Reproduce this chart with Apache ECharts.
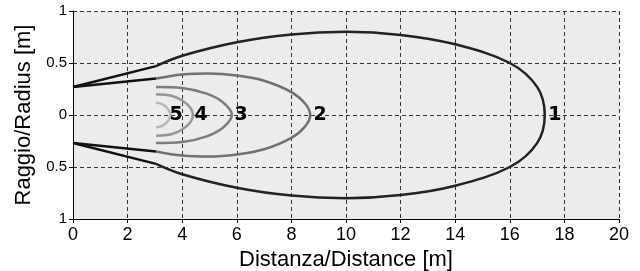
<!DOCTYPE html>
<html>
<head>
<meta charset="utf-8">
<script src="https://cdn.jsdelivr.net/npm/echarts@6/dist/echarts.min.js"></script>
<style>
  html, body { margin: 0; padding: 0; background: #fff; }
  #main { width: 640px; height: 271px; }
</style>
</head>
<body>
<div id="main"></div>
<script>
  // upper half of each curve, [distance, radius]; lower half is mirrored
  var curve1 = [[3.04, 0.47], [4, 0.57], [6, 0.70], [8, 0.775], [10, 0.80], [12, 0.77], [14, 0.68], [16, 0.50], [17, 0.27], [17.28, 0]]
  var curve2 = [[3.04, 0.35], [4, 0.39], [5, 0.40], [6, 0.38], [7, 0.33], [8, 0.22], [8.5, 0.11], [8.69, 0]]
  var curve3 = [[3.04, 0.27], [4, 0.26], [4.9, 0.205], [5.5, 0.12], [5.82, 0]]
  var curve4 = [[3.04, 0.20], [3.6, 0.185], [4.0, 0.14], [4.3, 0.07], [4.39, 0]]
  var curve5 = [[3.04, 0.12], [3.3, 0.10], [3.5, 0.05], [3.56, 0]]
  var feedA = [[0, 0.27], [3.04, 0.47]]
  var feedB = [[0, 0.27], [3.04, 0.35]]
  var labelNames = ['1', '2', '3', '4', '5']
  var labelX = [17.65, 9.05, 6.16, 4.69, 3.78]

  function mirror(pts) {
    var out = pts.slice()
    for (var i = pts.length - 2; i >= 0; i--) {
      out.push([pts[i][0], -pts[i][1]])
    }
    return out
  }
  function flip(pts) {
    return pts.map(function (p) { return [p[0], -p[1]] })
  }

  function curve(data, color, width) {
    return {
      type: 'line', data: data, smooth: 0.35, symbol: 'none',
      lineStyle: { color: color, width: width }, z: 3
    }
  }
  function straight(data) {
    return {
      type: 'line', data: data, symbol: 'none',
      lineStyle: { color: '#111', width: 2.5 }, z: 3
    }
  }

  var chart = echarts.init(document.getElementById('main'))
  chart.setOption({
    animation: false,
    grid: {
      left: 73, right: 21, top: 11, bottom: 52,
      outerBoundsMode: 'none', containLabel: false,
      show: true, backgroundColor: '#ececec', borderWidth: 0
    },
    xAxis: {
      type: 'value', min: 0, max: 20, interval: 2,
      name: 'Distanza/Distance [m]', nameLocation: 'middle', nameGap: 27,
      nameTextStyle: { fontFamily: 'Liberation Sans', fontSize: 22, color: '#000' },
      axisLine: { show: true, onZero: false, lineStyle: { color: '#000', width: 1 } },
      axisTick: { show: true, length: 4, lineStyle: { color: '#000' } },
      axisLabel: {
        fontFamily: "'Liberation Sans Narrow', 'Liberation Sans'", fontSize: 18,
        color: '#000', margin: 7
      },
      splitLine: { show: true, lineStyle: { color: '#333', type: [4, 3], width: 1 } }
    },
    yAxis: {
      type: 'value', min: -1, max: 1, interval: 0.5,
      name: 'Raggio/Radius [m]', nameLocation: 'middle', nameGap: 34,
      nameTextStyle: { fontFamily: 'Liberation Sans', fontSize: 22, color: '#000' },
      axisLine: { show: true, onZero: false, lineStyle: { color: '#000', width: 1 } },
      axisTick: { show: true, length: 4, lineStyle: { color: '#000' } },
      axisLabel: {
        fontFamily: 'Liberation Sans', fontSize: 15, color: '#000', margin: 6,
        formatter: function (v) { return String(Math.abs(v)) }
      },
      splitLine: { show: true, lineStyle: { color: '#333', type: [4, 3], width: 1 } }
    },
    series: [
      straight(feedA), straight(feedB), straight(flip(feedA)), straight(flip(feedB)),
      curve(mirror(curve1), '#222', 2.5),
      curve(mirror(curve2), '#707070', 2.5),
      curve(mirror(curve3), '#7c7c7c', 2.5),
      curve(mirror(curve4), '#959595', 2.5),
      curve(mirror(curve5), '#b8b8b8', 2.5),
      {
        type: 'scatter', symbolSize: 0, z: 5,
        itemStyle: { opacity: 1 },
        data: labelX.map(function (x, i) { return { value: [x, 0], name: labelNames[i] } }),
        label: {
          show: true, position: 'inside', formatter: '{b}', opacity: 1,
          fontFamily: 'DejaVu Sans', fontWeight: 'bold', fontSize: 19, color: '#000'
        }
      }
    ]
  })
</script>
</body>
</html>
